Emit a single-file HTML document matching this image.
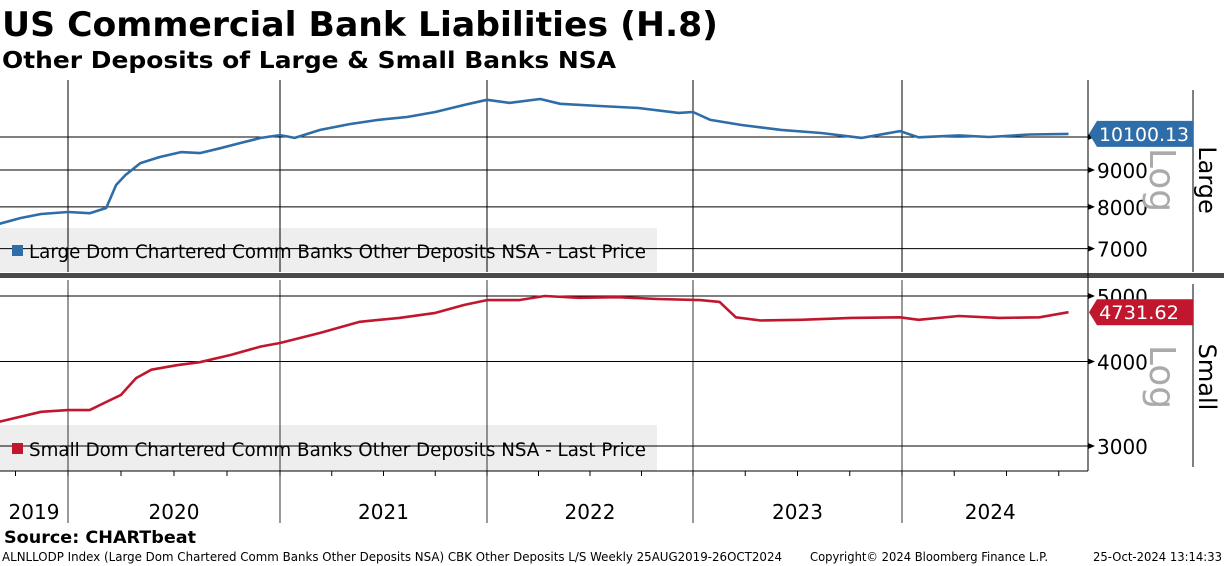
<!DOCTYPE html>
<html><head><meta charset="utf-8"><style>
body{margin:0;background:#fff;}
svg{display:block;font-family:"DejaVu Sans","Liberation Sans",sans-serif;}
</style></head><body>
<svg id="chart" width="1224" height="566" viewBox="0 0 1224 566" xmlns="http://www.w3.org/2000/svg">
<text x="2" y="36" font-size="34" font-weight="bold" textLength="716" lengthAdjust="spacingAndGlyphs">US Commercial Bank Liabilities (H.8)</text>
<text x="2" y="68" font-size="23" font-weight="bold" textLength="614" lengthAdjust="spacingAndGlyphs">Other Deposits of Large &amp; Small Banks NSA</text>
<rect x="0" y="228" width="657" height="44" fill="#eeeeee"/>
<rect x="0" y="425" width="657" height="46" fill="#eeeeee"/>
<g id="grid"></g>
<g id="series"></g>
<rect x="0" y="273" width="1224" height="5" fill="#4a4a4a"/>
<line x1="1088" y1="80" x2="1088" y2="471" stroke="#000"/>
<line x1="1193" y1="90" x2="1193" y2="272" stroke="#000"/>
<line x1="1193" y1="284" x2="1193" y2="467" stroke="#000"/>
<line x1="0" y1="471" x2="1088" y2="471" stroke="#000"/>
<g id="labels"></g>
<rect x="12" y="245" width="11" height="11" fill="#2e6da8"/>
<text x="29" y="258" font-size="19" textLength="617" lengthAdjust="spacingAndGlyphs">Large Dom Chartered Comm Banks Other Deposits NSA - Last Price</text>
<rect x="12" y="443" width="11" height="11" fill="#c0172f"/>
<text x="29" y="456" font-size="19" textLength="617" lengthAdjust="spacingAndGlyphs">Small Dom Chartered Comm Banks Other Deposits NSA - Last Price</text>
<text transform="translate(1199,180) rotate(90)" font-size="24" text-anchor="middle">Large</text>
<text transform="translate(1199,377) rotate(90)" font-size="24" text-anchor="middle">Small</text>
<text transform="translate(1150,180) rotate(90)" font-size="36" fill="#aaaaaa" text-anchor="middle">Log</text>
<text transform="translate(1150,377) rotate(90)" font-size="36" fill="#aaaaaa" text-anchor="middle">Log</text>
<text x="4" y="543" font-size="17" font-weight="bold" textLength="192" lengthAdjust="spacingAndGlyphs">Source: CHARTbeat</text>
<text x="2" y="561" font-size="12" textLength="780" lengthAdjust="spacingAndGlyphs">ALNLLODP Index (Large Dom Chartered Comm Banks Other Deposits NSA) CBK Other Deposits L/S  Weekly 25AUG2019-26OCT2024</text>
<text x="810" y="561" font-size="12" textLength="238" lengthAdjust="spacingAndGlyphs">Copyright© 2024 Bloomberg Finance L.P.</text>
<text x="1093" y="561" font-size="12" textLength="129" lengthAdjust="spacingAndGlyphs">25-Oct-2024 13:14:33</text>
</svg>
<script>
const largeDates=['2019-09-01','2019-10-10','2019-11-15','2020-01-01','2020-02-08','2020-03-06','2020-03-23','2020-04-09','2020-05-04','2020-06-07','2020-07-13','2020-08-15','2020-09-20','2020-10-24','2020-11-29','2021-01-01','2021-01-27','2021-03-11','2021-05-02','2021-06-22','2021-08-12','2021-10-01','2021-11-22','2022-01-01','2022-02-10','2022-04-04','2022-05-09','2022-07-18','2022-09-26','2022-12-06','2023-01-01','2023-02-01','2023-03-25','2023-06-03','2023-08-12','2023-10-22','2023-12-28','2024-01-30','2024-04-09','2024-06-01','2024-08-11','2024-10-18'];
const largeValues=[7570,7720,7820,7870,7840,7970,8580,8860,9200,9380,9530,9500,9650,9810,9970,10060,9970,10230,10420,10560,10660,10830,11080,11260,11150,11290,11120,11040,10970,10800,10830,10560,10390,10230,10130,9970,10190,9990,10050,10000,10080,10100];
const smallDates=['2019-09-01','2019-11-15','2020-01-01','2020-02-08','2020-03-06','2020-04-01','2020-04-27','2020-05-23','2020-07-06','2020-08-15','2020-10-07','2020-11-29','2021-01-01','2021-03-11','2021-05-20','2021-07-29','2021-10-01','2021-11-22','2022-01-01','2022-02-27','2022-04-12','2022-06-12','2022-08-20','2022-10-29','2023-01-13','2023-02-17','2023-03-15','2023-04-28','2023-07-07','2023-10-03','2023-12-28','2024-01-30','2024-04-09','2024-06-19','2024-08-28','2024-10-18'];
const smallValues=[3255,3370,3390,3390,3485,3570,3780,3890,3950,3990,4090,4210,4260,4410,4580,4640,4720,4850,4930,4930,5000,4970,4980,4950,4930,4900,4650,4600,4610,4640,4650,4610,4670,4640,4650,4731.62];
const largeTicks=[7000,8000,9000,10000];
const smallTicks=[3000,4000,5000];
const yearLabels=['2019','2020','2021','2022','2023','2024'];
const yearStarts=['2019-09-01','2020-01-01','2021-01-01','2022-01-01','2023-01-01','2024-01-01','2024-11-05'];
const largeLast=10100.13, smallLast=4731.62;

const NS='http://www.w3.org/2000/svg';
const knotYears=[2020,2021,2022,2023,2024];
const knotPx=[68,280,487,693,902];
function t(d){const p=d.split('-').map(Number);return p[0]+(p[1]-1)/12+(p[2]-1)/365;}
function xs(d){
  const v=t(d);
  if(v<=2020)return 68+(v-2020)*210;
  if(v>=2024)return 902+(v-2024)*209;
  const i=Math.floor(v)-2020;
  return knotPx[i]+(v-knotYears[i])*(knotPx[i+1]-knotPx[i]);
}
function yL(v){return 137-Math.log10(v/10000)*721;}
function yS(v){return 296-Math.log10(v/5000)*676;}
function mk(tag,attrs,parent){const e=document.createElementNS(NS,tag);for(const k in attrs)e.setAttribute(k,attrs[k]);parent.appendChild(e);return e;}
const grid=document.getElementById('grid'),ser=document.getElementById('series'),lab=document.getElementById('labels');
for(let i=1;i<yearStarts.length-1;i++){
  const x=xs(yearStarts[i]);
  let l=mk('line',{x1:x,y1:80,x2:x,y2:272,stroke:'#000'},grid);
  
  
  l=mk('line',{x1:x,y1:280,x2:x,y2:523,stroke:'#000','stroke-width':0.8},grid);
  
  
}
for(let y=2019;y<=2024;y++)for(let q=0;q<4;q++){
  const x=xs(y+'-'+String(q*3+1).padStart(2,'0')+'-01');
  if(x<0||x>1088)continue;
  const l=mk('line',{x1:x,y1:471,x2:x,y2:476,stroke:'#000'},grid);
  
  
}
for(let i=0;i<yearLabels.length;i++){
  const x0=Math.max(0,xs(yearStarts[i])),x1=Math.min(1088,xs(yearStarts[i+1]));
  const tx=mk('text',{x:(x0+x1)/2,y:519,'font-size':20,'text-anchor':'middle'},lab);
  tx.textContent=yearLabels[i];
  
  
}
function hTicks(ticks,yf,name){
  ticks.forEach(v=>{
    const y=yf(v);
    let l=mk('line',{x1:0,y1:y,x2:1088,y2:y,stroke:'#000'},grid);
    
    
    mk('path',{d:`M1088 ${y-3}L1095 ${y}L1088 ${y+3}Z`,fill:'#000'},grid);
    const tx=mk('text',{x:1097,y:y+8,'font-size':20},lab);
    tx.textContent=v;
    
    
  });
}
hTicks(largeTicks,yL,'large-y');
hTicks(smallTicks,yS,'small-y');
function line(dates,vals,yf,col,name){
  const d=dates.map((dt,i)=>(i?'L':'M')+xs(dt).toFixed(1)+' '+yf(vals[i]).toFixed(1)).join('');
  const p=mk('path',{d:d,fill:'none',stroke:col,'stroke-width':2.6,'stroke-linejoin':'round'},ser);
  
  
}
line(largeDates,largeValues,yL,'#2e6da8','large-banks-line');
line(smallDates,smallValues,yS,'#c0172f','small-banks-line');
function lastTag(v,yf,col,name){
  const y=yf(v);
  const p=mk('path',{d:`M1089 ${y}L1097 ${y-13}L1193 ${y-13}L1193 ${y+13}L1097 ${y+13}Z`,fill:col},lab);
  
  
  const s=v.toFixed(2);
  const tx=mk('text',{x:1099,y:y+7,'font-size':19,fill:'#fff',textLength:s.length>7?90:80,lengthAdjust:'spacingAndGlyphs'},lab);
  tx.textContent=s;
  
  
}
lastTag(largeLast,yL,'#2e6da8','large-last-price-tag');
lastTag(smallLast,yS,'#c0172f','small-last-price-tag');
</script>
</body></html>
